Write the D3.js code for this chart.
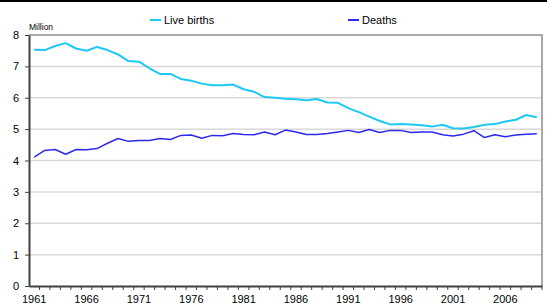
<!DOCTYPE html>
<html>
<head>
<meta charset="utf-8">
<script src="https://cdn.jsdelivr.net/npm/d3@7"></script>
<style>
body { margin: 0; background: #fff; }
svg { font-family: "Liberation Sans", Arial, sans-serif; }
</style>
</head>
<body>
<script>
var width = 547,
    height = 308;

var years = d3.range(1961, 2010);

var births = [7.53, 7.52, 7.65, 7.74, 7.57, 7.50, 7.62, 7.52, 7.38, 7.17, 7.15, 6.94,
    6.76, 6.76, 6.60, 6.54, 6.45, 6.40, 6.40, 6.42, 6.27, 6.19, 6.02,
    6.00, 5.97, 5.95, 5.92, 5.96, 5.85, 5.84, 5.67, 5.54, 5.40, 5.26,
    5.15, 5.16, 5.15, 5.12, 5.08, 5.14, 5.03, 5.02, 5.07, 5.14, 5.16, 5.24, 5.30, 5.45, 5.38];

var deaths = [4.11, 4.32, 4.35, 4.20, 4.35, 4.34, 4.38, 4.55, 4.70, 4.61, 4.64, 4.64,
    4.70, 4.67, 4.80, 4.81, 4.71, 4.80, 4.79, 4.86, 4.83, 4.82, 4.91, 4.82,
    4.97, 4.91, 4.83, 4.83, 4.86, 4.91, 4.96, 4.89, 4.99, 4.89, 4.96, 4.96,
    4.89, 4.91, 4.91, 4.82, 4.78, 4.84, 4.95, 4.73, 4.82, 4.76, 4.81, 4.84, 4.85];

var yTicks = [0, 1, 2, 3, 4, 5, 6, 7, 8];
var labelYears = [1961, 1966, 1971, 1976, 1981, 1986, 1991, 1996, 2001, 2006];

var series = [
    { name: "Live births", values: births, color: "#1ec8f5", width: 2, lx: 150 },
    { name: "Deaths", values: deaths, color: "#2b2bf0", width: 1.5, lx: 348 }
];

var svg = d3.select("body").append("svg")
    .attr("width", width)
    .attr("height", height);

// top rule
svg.append("line")
    .attr("x1", 0).attr("x2", width)
    .attr("y1", 1).attr("y2", 1)
    .attr("stroke", "#000")
    .attr("stroke-width", 2);

var x = d3.scaleBand()
    .domain(years)
    .range([29, 542]);

var y = d3.scaleLinear()
    .domain([0, 8])
    .range([286, 35]);

var bw = x.bandwidth();

// grid
svg.append("g")
    .selectAll("line")
    .data(yTicks.slice(1, -1))
    .enter().append("line")
    .attr("x1", 29).attr("x2", 542)
    .attr("y1", function(d) { return y(d); })
    .attr("y2", function(d) { return y(d); })
    .attr("stroke", "#d8d8d8")
    .attr("stroke-width", 1.5);

// plot frame top/right
svg.append("path")
    .attr("d", "M29," + y(8) + "H542V" + y(0))
    .attr("fill", "none")
    .attr("stroke", "#a8a8a8")
    .attr("stroke-width", 2);

// y axis
var yAxis = svg.append("g")
    .attr("transform", "translate(29,0)")
    .call(d3.axisLeft(y).tickValues(yTicks).tickSize(4).tickPadding(6).tickSizeOuter(0));
yAxis.select(".domain").attr("stroke", "#404040").attr("stroke-width", 2);
yAxis.selectAll(".tick line").attr("stroke", "#404040");
yAxis.selectAll("text").attr("font-size", 11).attr("fill", "#000")
    .attr("font-family", "Liberation Sans, Arial, sans-serif");

// x axis tick marks between categories
var xTicks = svg.append("g")
    .attr("transform", "translate(0,286)")
    .call(d3.axisBottom(x).tickSize(4).tickSizeOuter(0).tickFormat(""));
xTicks.selectAll(".tick line").attr("transform", "translate(" + (bw / 2) + ",0)")
    .attr("stroke", "#404040");
xTicks.select(".domain").attr("stroke", "#404040").attr("stroke-width", 2);

// x labels
var xLabels = svg.append("g")
    .attr("transform", "translate(0,286)")
    .call(d3.axisBottom(x).tickValues(labelYears).tickSize(0).tickPadding(9));
xLabels.select(".domain").remove();
xLabels.selectAll("text").attr("font-size", 11).attr("fill", "#000")
    .attr("font-family", "Liberation Sans, Arial, sans-serif");

svg.append("text")
    .attr("x", 29).attr("y", 30)
    .attr("font-size", 8.5)
    .text("Million");

var line = d3.line()
    .x(function(d, i) { return x(years[i]) + bw / 2; })
    .y(function(d) { return y(d); });

svg.selectAll(".series")
    .data(series)
    .enter().append("path")
    .attr("class", "series")
    .attr("d", function(d) { return line(d.values); })
    .attr("fill", "none")
    .attr("stroke", function(d) { return d.color; })
    .attr("stroke-width", function(d) { return d.width; })
    .attr("stroke-linejoin", "round");

// legend
var lg = svg.selectAll(".legend")
    .data(series)
    .enter().append("g")
    .attr("class", "legend")
    .attr("transform", function(d) { return "translate(" + d.lx + ",20)"; });

lg.append("line")
    .attr("x1", 0).attr("x2", 11)
    .attr("stroke", function(d) { return d.color; })
    .attr("stroke-width", 2);

lg.append("text")
    .attr("x", 14).attr("y", 4)
    .attr("font-size", 11)
    .text(function(d) { return d.name; });
</script>
</body>
</html>
